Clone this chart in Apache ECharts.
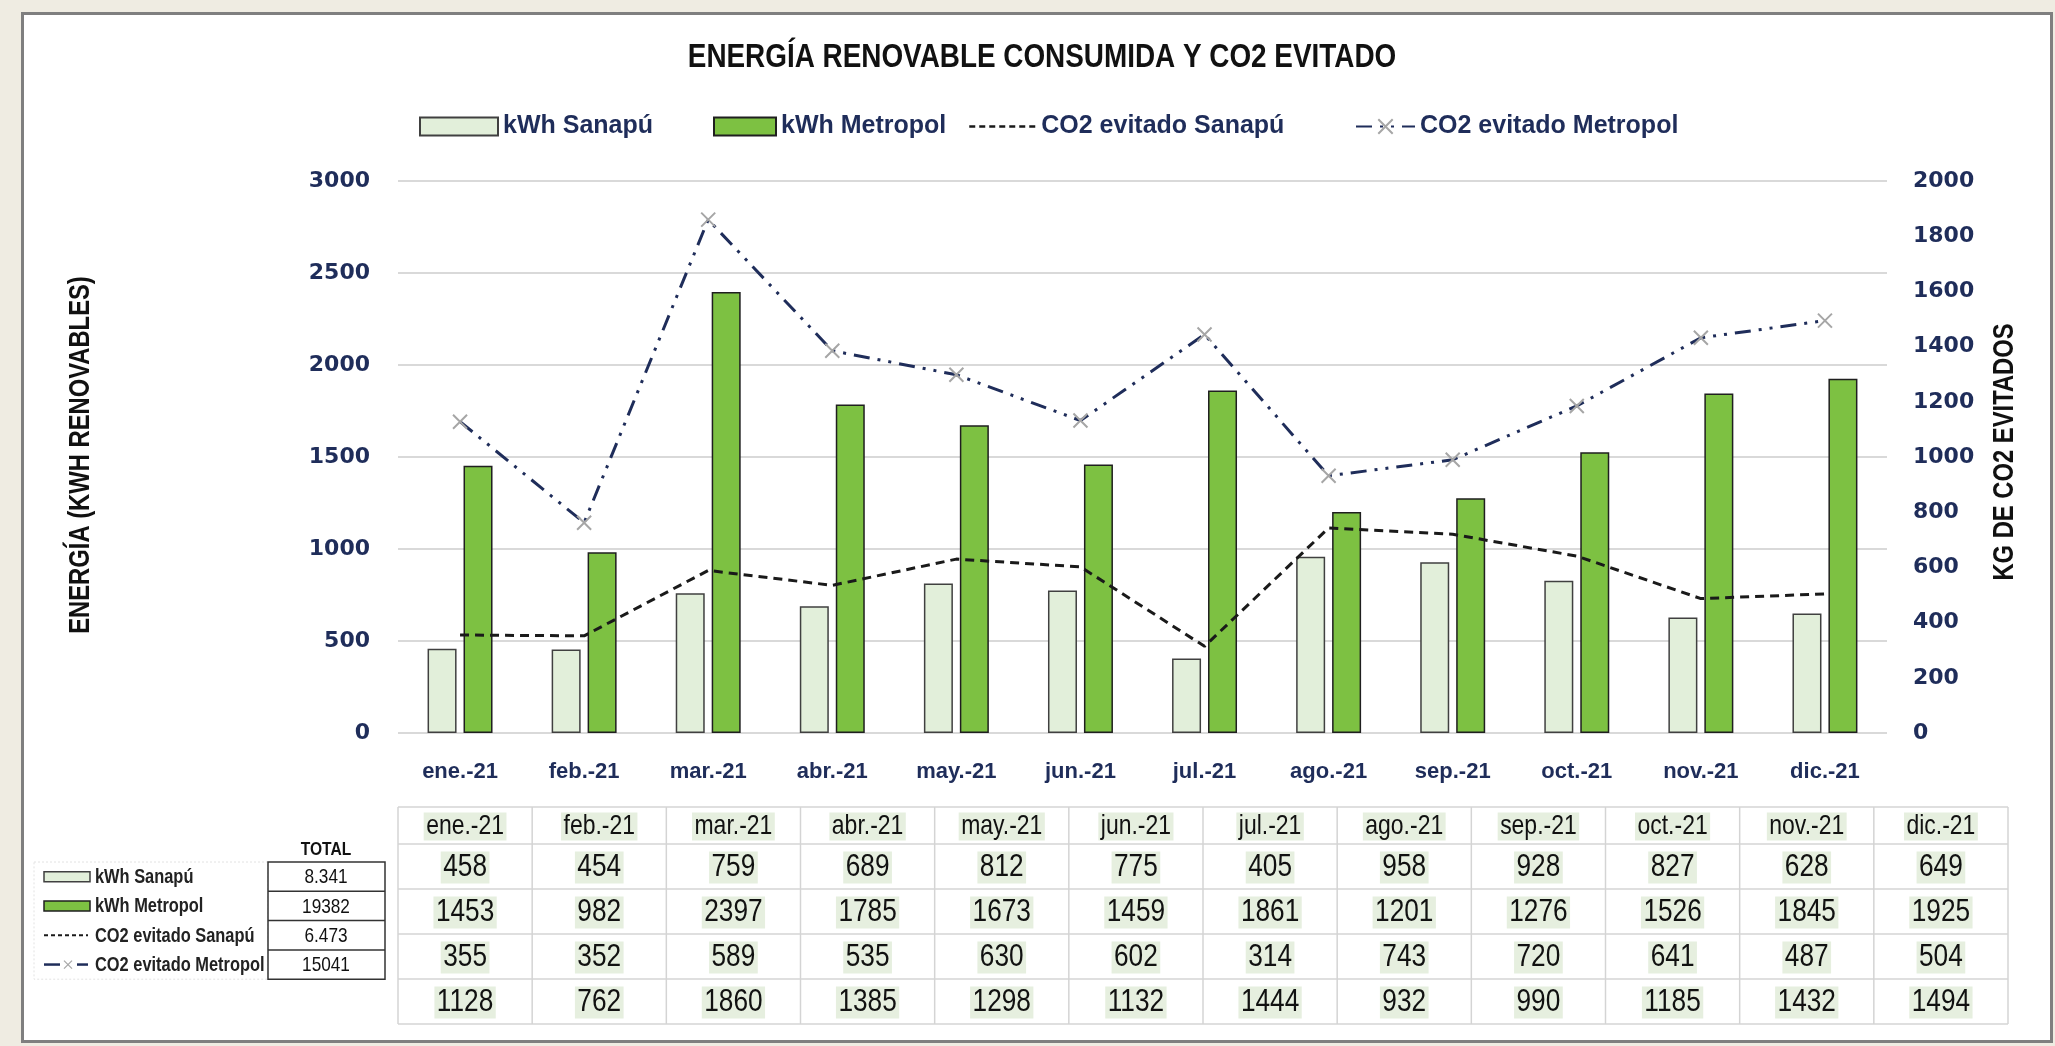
<!DOCTYPE html>
<html>
<head>
<meta charset="utf-8">
<script src="https://cdn.jsdelivr.net/npm/echarts@6/dist/echarts.min.js"></script>
<style>
  html, body { margin: 0; padding: 0; background: #EFECE2; }
  #panel { position: absolute; left: 21px; top: 12px; width: 2032px; height: 1031px; box-sizing: border-box; background: #fff; border: 3px solid #7f7f7f; }
  #chart { position: absolute; left: 0; top: 0; width: 2055px; height: 1046px; }
</style>
</head>
<body>
<div id="panel"></div>
<div id="chart"></div>
<script>
// datos mensuales
const months = ['ene.-21', 'feb.-21', 'mar.-21', 'abr.-21', 'may.-21', 'jun.-21', 'jul.-21', 'ago.-21', 'sep.-21', 'oct.-21', 'nov.-21', 'dic.-21']
const kwhSanapu = [458, 454, 759, 689, 812, 775, 405, 958, 928, 827, 628, 649]
const kwhMetropol = [1453, 982, 2397, 1785, 1673, 1459, 1861, 1201, 1276, 1526, 1845, 1925]
const co2Sanapu = [355, 352, 589, 535, 630, 602, 314, 743, 720, 641, 487, 504]
const co2Metropol = [1128, 762, 1860, 1385, 1298, 1132, 1444, 932, 990, 1185, 1432, 1494]
const seriesNames = ['kWh Sanapú', 'kWh Metropol', 'CO2 evitado Sanapú', 'CO2 evitado Metropol']
const totals = ['8.341', '19382', '6.473', '15041']
const leftAxis = { max: 3000, step: 500 }
const rightAxis = { max: 2000, step: 200 }

const SANS = "'Liberation Sans', Arial, sans-serif"
const NAVY = '#1F2D5A'
const LIGHT = '#E2EFDA'
const GREEN = '#7DC142'
const X_PATH = 'path://M0,0L10,10M0,10L10,0'
const NARROW_X = 0.82   // simula una fuente condensada

// texto "condensado" para los elementos graficos
function txt(text, x, y, font, align, extra) {
  return Object.assign({
    type: 'text', x, y, scaleX: NARROW_X, z: 5,
    style: { text, font, fill: '#111', textAlign: align || 'center', textVerticalAlign: 'middle' }
  }, extra || {})
}

// tabla de datos bajo el grafico
function dataTable() {
  const rows = [kwhSanapu, kwhMetropol, co2Sanapu, co2Metropol]
  const left = 398, right = 2008, top = 807, headH = 37, rowH = 45
  const colW = (right - left) / months.length
  const bottom = top + headH + rowH * rows.length
  const els = []
  const lineStyle = { stroke: '#D4D4D4', lineWidth: 1.5 }

  let ys = [top, top + headH]
  rows.forEach((r, i) => ys.push(top + headH + rowH * (i + 1)))
  ys.forEach(y => els.push({ type: 'line', shape: { x1: left, y1: y, x2: right, y2: y }, style: lineStyle }))
  for (let i = 0; i <= months.length; i++) {
    const x = left + colW * i
    els.push({ type: 'line', shape: { x1: x, y1: top, x2: x, y2: bottom }, style: lineStyle })
  }

  const cell = (text, x, y, size) => {
    const t = txt(text, x, y, size + 'px ' + SANS)
    t.style.backgroundColor = '#E6EFDF'
    t.style.padding = [0, 3]
    return t
  }

  months.forEach((m, i) => {
    const cx = left + colW * (i + 0.5)
    els.push(cell(m, cx, top + headH / 2 + 1, 28))
    rows.forEach((r, j) => {
      els.push(cell(String(r[i]), cx, top + headH + rowH * (j + 0.5) + 1, 32))
    })
  })
  return els
}

// leyenda con totales a la izquierda
function totalsLegend() {
  const els = []
  const boxL = 268, boxR = 385, boxT = 862, rowH = 29.3
  const boxB = boxT + rowH * totals.length
  els.push({ type: 'rect', shape: { x: 34, y: boxT, width: boxL - 34, height: boxB - boxT }, style: { fill: 'none', stroke: '#E2E2E2', lineWidth: 1, lineDash: [2, 2] } })
  els.push({ type: 'rect', shape: { x: boxL, y: boxT, width: boxR - boxL, height: boxB - boxT }, style: { fill: '#fff', stroke: '#333', lineWidth: 1.5 } })
  for (let i = 1; i < totals.length; i++) {
    const y = boxT + rowH * i
    els.push({ type: 'line', shape: { x1: boxL, y1: y, x2: boxR, y2: y }, style: { stroke: '#333', lineWidth: 1.5 } })
  }
  els.push(txt('TOTAL', 326, 850, 'bold 19px ' + SANS))

  totals.forEach((t, i) => {
    const yc = boxT + rowH * (i + 0.5)
    if (i === 0) {
      els.push({ type: 'rect', shape: { x: 44, y: yc - 5, width: 46, height: 10 }, style: { fill: LIGHT, stroke: '#404040', lineWidth: 1.5 } })
    } else if (i === 1) {
      els.push({ type: 'rect', shape: { x: 44, y: yc - 5, width: 46, height: 10 }, style: { fill: GREEN, stroke: '#1f1f1f', lineWidth: 1.5 } })
    } else if (i === 2) {
      els.push({ type: 'line', shape: { x1: 44, y1: yc, x2: 88, y2: yc }, style: { stroke: '#1a1a1a', lineWidth: 2, lineDash: [4, 3] } })
    } else {
      els.push({ type: 'line', shape: { x1: 44, y1: yc, x2: 60, y2: yc }, style: { stroke: NAVY, lineWidth: 2.5 } })
      els.push({ type: 'line', shape: { x1: 77, y1: yc, x2: 88, y2: yc }, style: { stroke: NAVY, lineWidth: 2.5 } })
      els.push({ type: 'line', shape: { x1: 64, y1: yc - 4, x2: 72, y2: yc + 4 }, style: { stroke: '#A6A6A6', lineWidth: 1.2 } })
      els.push({ type: 'line', shape: { x1: 64, y1: yc + 4, x2: 72, y2: yc - 4 }, style: { stroke: '#A6A6A6', lineWidth: 1.2 } })
    }
    const label = txt(seriesNames[i], 95, yc + 1, 'bold 20px ' + SANS, 'left')
    label.style.fill = '#222'
    els.push(label)
    els.push(txt(t, 326, yc + 1, '21px ' + SANS))
  })
  return els
}

const legendText = { color: NAVY, fontFamily: SANS, fontWeight: 'bold', fontSize: 25 }
const legendAt = (name, left, width, extra) => Object.assign({
  data: [name], left, top: 109, itemWidth: width, itemHeight: 18, itemGap: 0,
  textStyle: legendText, selectedMode: false
}, extra || {})

const option = {
  animation: false,
  legend: [
    legendAt(seriesNames[0], 414, 78, { icon: 'rect' }),
    legendAt(seriesNames[1], 708, 62, { icon: 'rect' }),
    legendAt(seriesNames[2], 963, 67, {
      itemStyle: { color: 'rgba(0,0,0,0)', borderColor: 'rgba(0,0,0,0)', borderWidth: 0 },
      lineStyle: { type: [6, 4], width: 2.5 }
    }),
    legendAt(seriesNames[3], 1350, 59)
  ],
  grid: { left: 398, top: 181, width: 1489, height: 552 },
  xAxis: {
    type: 'category',
    data: months,
    axisLine: { show: false },
    axisTick: { show: false },
    axisLabel: { interval: 0, color: NAVY, fontFamily: SANS, fontWeight: 'bold', fontSize: 22, margin: 28 }
  },
  yAxis: [{
    type: 'value', min: 0, max: leftAxis.max, interval: leftAxis.step,
    axisLine: { show: false }, axisTick: { show: false },
    splitLine: { lineStyle: { color: '#D9D9D9', width: 2 } },
    axisLabel: { formatter: v => String(v), color: NAVY, fontFamily: 'DejaVu Sans', fontWeight: 'bold', fontSize: 22, margin: 28 }
  }, {
    type: 'value', min: 0, max: rightAxis.max, interval: rightAxis.step,
    axisLine: { show: false }, axisTick: { show: false },
    splitLine: { show: false },
    axisLabel: { formatter: v => String(v), color: NAVY, fontFamily: 'DejaVu Sans', fontWeight: 'bold', fontSize: 22, margin: 26 }
  }],
  series: [{
    name: seriesNames[0], type: 'bar', data: kwhSanapu,
    barWidth: 29, barGap: '24%',
    itemStyle: { color: LIGHT, borderColor: '#404040', borderWidth: 1.5 }
  }, {
    name: seriesNames[1], type: 'bar', data: kwhMetropol,
    barWidth: 29,
    itemStyle: { color: GREEN, borderColor: '#1f1f1f', borderWidth: 1.5 }
  }, {
    name: seriesNames[2], type: 'line', yAxisIndex: 1, data: co2Sanapu,
    symbol: 'none', z: 4,
    itemStyle: { color: '#1a1a1a' },
    lineStyle: { color: '#1a1a1a', width: 3, type: [9, 6] }
  }, {
    name: seriesNames[3], type: 'line', yAxisIndex: 1, data: co2Metropol,
    symbol: X_PATH, symbolSize: 14, z: 5,
    itemStyle: { color: 'rgba(0,0,0,0)', borderColor: '#A6A6A6', borderWidth: 2 },
    lineStyle: { color: NAVY, width: 3, type: [16, 8, 3, 8, 3, 8] }
  }],
  graphic: [
    txt('ENERGÍA RENOVABLE CONSUMIDA Y CO2 EVITADO', 1042, 58, 'bold 34px ' + SANS),
    txt('ENERGÍA (KWH RENOVABLES)', 81, 455, 'bold 29px ' + SANS, 'center', { rotation: Math.PI / 2 }),
    txt('KG DE CO2 EVITADOS', 2005, 452, 'bold 29px ' + SANS, 'center', { rotation: Math.PI / 2 }),
    { type: 'group', children: dataTable() },
    { type: 'group', children: totalsLegend() }
  ]
}

const myChart = echarts.init(document.getElementById('chart'))
myChart.setOption(option)
</script>
</body>
</html>
